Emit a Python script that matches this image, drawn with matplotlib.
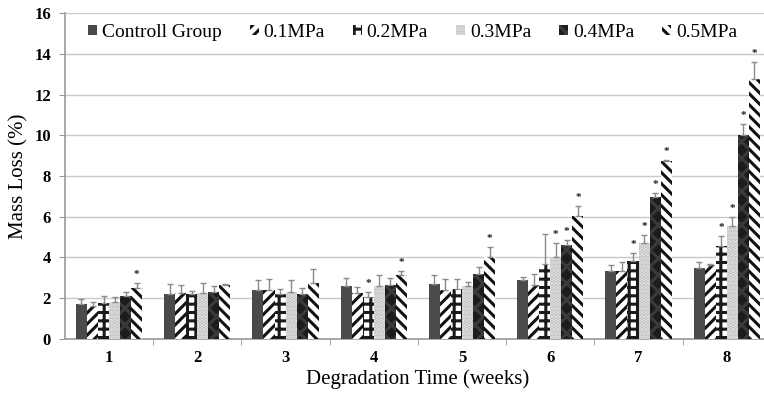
import numpy as np
import matplotlib
matplotlib.use("Agg")
import matplotlib.pyplot as plt

plt.rcParams['font.family'] = ['Liberation Serif', 'DejaVu Serif']
plt.rcParams['hatch.linewidth'] = 2.2

weeks = [1, 2, 3, 4, 5, 6, 7, 8]
groups = ["Controll Group", "0.1MPa", "0.2MPa", "0.3MPa", "0.4MPa", "0.5MPa"]

# mass loss (%) per group, weeks 1..8
control = [1.70, 2.22, 2.40, 2.62, 2.70, 2.90, 3.32, 3.48]
mpa01 = [1.60, 2.27, 2.40, 2.24, 2.38, 2.64, 3.35, 3.64]
mpa02 = [1.77, 2.20, 2.22, 2.07, 2.46, 3.68, 3.85, 4.55]
mpa03 = [1.80, 2.27, 2.32, 2.60, 2.60, 4.00, 4.70, 5.55]
mpa04 = [2.13, 2.33, 2.23, 2.66, 3.20, 4.62, 6.95, 10.02]
mpa05 = [2.52, 2.66, 2.73, 3.15, 4.00, 6.03, 8.72, 12.76]

# upper error bars
control_err = [0.26, 0.50, 0.50, 0.36, 0.42, 0.16, 0.30, 0.29]
mpa01_err = [0.20, 0.40, 0.56, 0.32, 0.55, 0.55, 0.42, 0.05]
mpa02_err = [0.34, 0.16, 0.25, 0.24, 0.47, 1.47, 0.35, 0.50]
mpa03_err = [0.27, 0.49, 0.58, 0.52, 0.22, 0.72, 0.39, 0.42]
mpa04_err = [0.17, 0.26, 0.25, 0.33, 0.32, 0.24, 0.22, 0.53]
mpa05_err = [0.24, 0.02, 0.72, 0.20, 0.50, 0.49, 0.05, 0.82]

# weeks with significant difference (*) for each group
control_sig = []
mpa01_sig = []
mpa02_sig = [4, 7, 8]
mpa03_sig = [6, 7, 8]
mpa04_sig = [6, 7, 8]
mpa05_sig = [1, 4, 5, 6, 7, 8]

values = [control, mpa01, mpa02, mpa03, mpa04, mpa05]
errors = [control_err, mpa01_err, mpa02_err, mpa03_err, mpa04_err, mpa05_err]
sigs = [control_sig, mpa01_sig, mpa02_sig, mpa03_sig, mpa04_sig, mpa05_sig]

styles = [
    dict(facecolor='#4a4a4a', edgecolor='#4a4a4a', hatch=None),
    dict(facecolor='white', edgecolor='#111111', hatch='///'),
    dict(facecolor='white', edgecolor='#1a1a1a', hatch='++'),
    dict(facecolor='#bcbcbc', edgecolor='#e6e6e6', hatch='....'),
    dict(facecolor='#1c1c1c', edgecolor='#3a3a3a', hatch='xx'),
    dict(facecolor='white', edgecolor='#111111', hatch='\\\\\\'),
]

fig = plt.figure(figsize=(7.64, 3.96), dpi=100)
ax = fig.add_axes([0.085, 0.144, 0.924, 0.823])

x = np.array(weeks, dtype=float)
w = 0.125
for i, (vals, errs, sig, st) in enumerate(zip(values, errors, sigs, styles)):
    pos = x + (i - 2.5) * w
    ax.bar(pos, vals, width=w, label=groups[i], linewidth=0, zorder=3, **st)
    ax.errorbar(pos, vals, yerr=[np.zeros(len(errs)), errs], fmt='none',
                ecolor='#8a8a8a', elinewidth=1.0, capsize=2.5, capthick=1.0, zorder=4)
    for wk in sig:
        k = weeks.index(wk)
        ax.annotate('*', (pos[k], vals[k] + errs[k]), xytext=(0, 3),
                    textcoords='offset points', ha='center', va='bottom',
                    fontsize=8, fontweight='bold', color='#222222')

ax.set_xlim(0.5, 8.5)
ax.set_ylim(0, 16)
ax.set_yticks(np.arange(0, 17, 2))
ax.set_xticks(weeks)
ax.set_xticks(np.arange(1.5, 8.5, 1), minor=True)
ax.tick_params(axis='x', which='major', length=0, pad=8, labelsize=12)
ax.tick_params(axis='x', which='minor', length=4, color='#999999', direction='out')
ax.tick_params(axis='y', length=4, color='#999999', labelsize=12, pad=6)
for lab in ax.get_xticklabels() + ax.get_yticklabels():
    lab.set_fontweight('bold')

ax.grid(axis='y', color='#c8c8c8', linewidth=1.0, zorder=0)
ax.set_axisbelow(True)
for s in ['top', 'right']:
    ax.spines[s].set_visible(False)
ax.spines['left'].set_color('#999999')
ax.spines['bottom'].set_color('#999999')
ax.spines['left'].set_linewidth(1.2)
ax.spines['bottom'].set_linewidth(1.2)

ax.set_xlabel('Degradation Time (weeks)', fontsize=15, labelpad=2)
ax.set_ylabel('Mass Loss (%)', fontsize=15, labelpad=4)

ax.legend(loc='center left', bbox_to_anchor=(0.022, 0.94), ncol=6, frameon=False,
          fontsize=14, handlelength=0.45, handleheight=0.45, handletextpad=0.25,
          columnspacing=1.45, borderaxespad=0)

fig.savefig('out.png', dpi=100)
